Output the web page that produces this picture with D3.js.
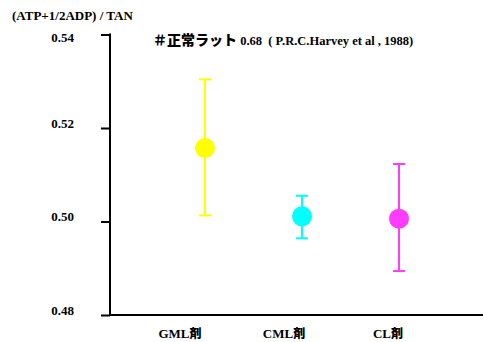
<!DOCTYPE html>
<html><head><meta charset="utf-8">
<script src="https://cdn.jsdelivr.net/npm/d3@7"></script>
<style>body{margin:0;background:#fff}svg{display:block}
.serif{font-family:"Liberation Serif","Times New Roman",Times,serif;font-weight:bold}
.cjk{font-family:"Noto Sans CJK JP","Noto Sans CJK SC",sans-serif;font-weight:900}
</style>
</head><body>
<script>
const categories = ["GML剤", "CML剤", "CL剤"];
const catLatin = ["GML", "CML", "CL"];
const means = [0.5157, 0.5011, 0.5006];
const upper = [0.5304, 0.5055, 0.5123];
const lower = [0.5013, 0.4964, 0.4894];
const colors = ["#ffff00", "#00ffff", "#ff3cff"];
const yTicks = [0.48, 0.50, 0.52, 0.54];
const yTitle = "(ATP+1/2ADP) / TAN";
const noteJa = "＃正常ラット";
const noteEn = " 0.68  ( P.R.C.Harvey et al , 1988)";

const W = 484, H = 342;
const svg = d3.select("body").append("svg").attr("width", W).attr("height", H);

const y = d3.scaleLinear().domain([0.48, 0.54]).range([315, 34.5]);
const x = d3.scalePoint().domain(categories).range([205, 399]);
const xl = d3.scalePoint().domain(categories).range([180, 388]);
const axisX = 110;

// y axis
const yAxis = d3.axisLeft(y).tickValues(yTicks).tickSize(9).tickFormat(d3.format(".2f"));
const gy = svg.append("g").attr("transform", `translate(${axisX},0)`).call(yAxis)
  .attr("font-family", null).attr("font-size", null);
gy.select(".domain").remove();
gy.selectAll(".tick line").attr("stroke", "#000").attr("stroke-width", 2);
gy.selectAll(".tick text").attr("class", "serif").attr("x", -36)
  .attr("dy", d => y(d) < 40 ? "0.55em" : "-0.05em")
  .style("font-size", "13px").attr("fill", "#000");
svg.append("line").attr("x1", axisX).attr("x2", axisX).attr("y1", y(0.54) - 1).attr("y2", y(0.48))
  .attr("stroke", "#000").attr("stroke-width", 2);
// x axis line
svg.append("line").attr("x1", axisX).attr("x2", 483).attr("y1", y(0.48)).attr("y2", y(0.48))
  .attr("stroke", "#000").attr("stroke-width", 2);

// error bars
const g = svg.append("g");
categories.forEach((c, i) => {
  const cx = x(c);
  g.append("line").attr("x1", cx).attr("x2", cx).attr("y1", y(upper[i])).attr("y2", y(lower[i]))
    .attr("stroke", colors[i]).attr("stroke-width", 2);
  [upper[i], lower[i]].forEach(v => {
    g.append("line").attr("x1", cx - 6).attr("x2", cx + 6).attr("y1", y(v)).attr("y2", y(v))
      .attr("stroke", colors[i]).attr("stroke-width", 2);
  });
  g.append("circle").attr("cx", cx).attr("cy", y(means[i])).attr("r", 10).attr("fill", colors[i]);
});

// category labels
categories.forEach((c, i) => {
  const t = svg.append("text").attr("x", xl(c)).attr("y", 338).attr("text-anchor", "middle")
    .style("font-size", "13px").attr("fill", "#000");
  t.append("tspan").attr("class", "serif").text(catLatin[i]);
  t.append("tspan").attr("class", "cjk").style("font-size", "12px").text(c.slice(catLatin[i].length));
});

// y title
svg.append("text").attr("class", "serif").attr("x", 12).attr("y", 20)
  .style("font-size", "13px").attr("fill", "#000").text(yTitle);

// note
const n = svg.append("text").attr("x", 153).attr("y", 45).attr("fill", "#000");
n.append("tspan").attr("class", "cjk").style("font-size", "14px").text(noteJa);
n.append("tspan").attr("class", "serif").style("font-size", "12.5px").style("white-space", "pre").text(noteEn);
</script>
</body></html>
